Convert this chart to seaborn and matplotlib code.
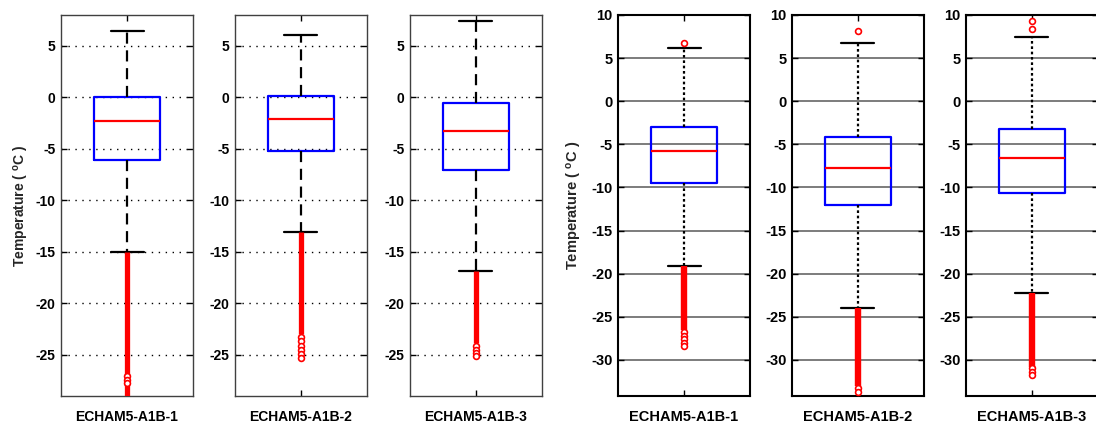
import seaborn as sns
from matplotlib import pyplot as plt

runs = ['ECHAM5-A1B-1', 'ECHAM5-A1B-2', 'ECHAM5-A1B-3']

# left block: five-number summaries
left_whisker_lo = [-15.0, -13.1, -16.9]
left_q1 = [-6.1, -5.2, -7.1]
left_median = [-2.3, -2.1, -3.3]
left_q3 = [0.0, 0.1, -0.5]
left_whisker_hi = [6.4, 6.1, 7.4]
# dense run of outliers (drawn as a solid streak) and the loose ones below it
left_streak_end = [-29.5, -23.0, -23.9]
left_loose_low = [[-27.1, -27.4, -27.7],
                  [-23.3, -23.7, -24.1, -24.5, -24.9, -25.3],
                  [-24.1, -24.5, -24.8, -25.1]]
left_loose_high = [[], [], []]

# right block
right_whisker_lo = [-19.1, -24.0, -22.2]
right_q1 = [-9.5, -12.0, -10.7]
right_median = [-5.8, -7.7, -6.6]
right_q3 = [-3.0, -4.2, -3.2]
right_whisker_hi = [6.2, 6.7, 7.4]
right_streak_end = [-26.5, -33.0, -30.8]
right_loose_low = [[-26.8, -27.2, -27.6, -28.0, -28.4],
                   [-33.3, -33.7],
                   [-31.0, -31.4, -31.8]]
right_loose_high = [[6.7], [8.2], [8.4, 9.3]]

sns.set_style('white')
plt.rcParams['font.family'] = ['Liberation Sans', 'DejaVu Sans']
plt.rcParams['axes.unicode_minus'] = False
plt.rcParams['mathtext.fontset'] = 'custom'
plt.rcParams['mathtext.rm'] = 'Liberation Sans:bold'
plt.rcParams['mathtext.it'] = 'Liberation Sans:bold'

fig = plt.figure(figsize=(10.96, 4.26), dpi=100)

bottom, height = 0.0704, 0.8944
left_x = [0.0557, 0.2144, 0.3741]
right_x = [0.5639, 0.7226, 0.8814]
panel_w = 0.1204


def draw_panel(ax, five, streak_end, loose_low, loose_high, style):
    sns.boxplot(y=five, ax=ax, whis=(0, 100), width=0.5, fill=False,
                showfliers=False,
                boxprops=dict(color='blue', linewidth=1.6),
                medianprops=dict(color='red', linewidth=1.6),
                whiskerprops=dict(color='black', linewidth=1.6,
                                  linestyle=style['whisker_ls']),
                capprops=dict(color='black', linewidth=1.6))
    # outliers
    ax.vlines(0, streak_end, five[0], color='red', linewidth=style['streak_lw'],
              zorder=3)
    for vals in (loose_low, loose_high):
        if vals:
            ax.plot([0] * len(vals), vals, 'o', ms=4.2, mfc='white', mec='red',
                    mew=1.2, zorder=4, clip_on=True)
    ax.set_xlim(-0.5, 0.5)
    ax.set_ylim(style['ylim'])
    ax.set_yticks(style['yticks'])
    ax.set_xticks([0])
    ax.set_xlabel('')
    ax.set_ylabel('')
    ax.grid(True, axis='y', color=style['grid_color'], linestyle=style['grid_ls'],
            linewidth=style['grid_lw'])
    ax.grid(False, axis='x')
    ax.set_axisbelow(True)
    ax.tick_params(direction='in', length=4, width=1.0, top=True, right=True,
                   left=True, bottom=True, labelsize=style['fs'],
                   pad=style['pad'], colors='black')
    for lab in ax.get_yticklabels() + ax.get_xticklabels():
        lab.set_fontweight('bold')
    for sp in ax.spines.values():
        sp.set_color(style['spine_color'])
        sp.set_linewidth(style['spine_lw'])


left_style = dict(whisker_ls=(0, (5, 3)), streak_lw=3.8, ylim=(-29, 8),
                  yticks=[-25, -20, -15, -10, -5, 0, 5], grid_color='black',
                  grid_ls=(0, (1, 4)), grid_lw=1.0, fs=10, pad=4,
                  spine_color='0.25', spine_lw=1.0)
right_style = dict(whisker_ls=(0, (1.2, 1.2)), streak_lw=4.6, ylim=(-34.2, 10),
                   yticks=[-30, -25, -20, -15, -10, -5, 0, 5, 10],
                   grid_color='0.35', grid_ls='-', grid_lw=1.1, fs=10.5, pad=4,
                   spine_color='black', spine_lw=1.5)

left_axes = []
for i in range(3):
    ax = fig.add_axes([left_x[i], bottom, panel_w, height])
    five = [left_whisker_lo[i], left_q1[i], left_median[i], left_q3[i],
            left_whisker_hi[i]]
    draw_panel(ax, five, left_streak_end[i], left_loose_low[i],
               left_loose_high[i], left_style)
    ax.set_xticklabels([runs[i]])
    left_axes.append(ax)

right_axes = []
for i in range(3):
    ax = fig.add_axes([right_x[i], bottom, panel_w, height])
    five = [right_whisker_lo[i], right_q1[i], right_median[i], right_q3[i],
            right_whisker_hi[i]]
    draw_panel(ax, five, right_streak_end[i], right_loose_low[i],
               right_loose_high[i], right_style)
    ax.set_xticklabels([runs[i]])
    right_axes.append(ax)

for ax in left_axes + right_axes:
    ax.tick_params(axis='x', pad=10)

left_axes[0].set_ylabel(r'Temperature ( $^{\mathrm{o}}$C )', fontsize=10,
                        fontweight='bold', labelpad=3)
right_axes[0].set_ylabel(r'Temperature ( $^{\mathrm{o}}$C )', fontsize=10.5,
                         fontweight='bold', labelpad=5)

fig.savefig('out.png', dpi=100)
